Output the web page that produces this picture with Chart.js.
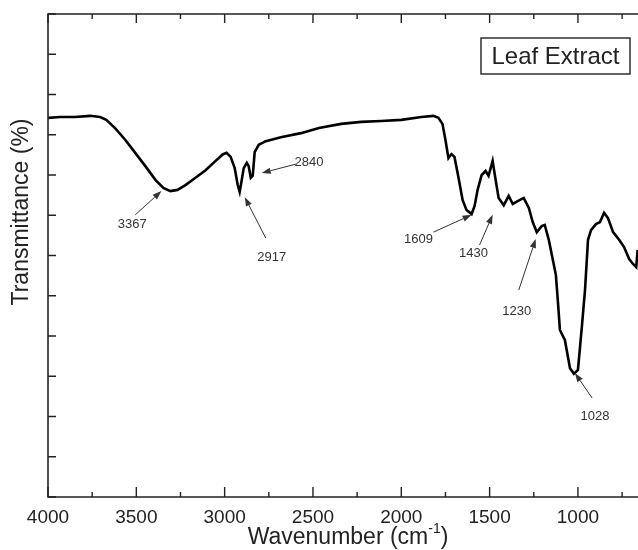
<!DOCTYPE html>
<html>
<head>
<meta charset="utf-8">
<script src="https://cdn.jsdelivr.net/npm/chart.js@4.4.1/dist/chart.umd.min.js"></script>
<style>
    html, body { margin: 0; padding: 0; background: #fff; }
    #wrap { width: 638px; height: 550px; position: relative; }
</style>
</head>
<body>
<div id="wrap"><canvas id="ftir-chart"></canvas></div>
<script>
/* FTIR spectrum — Leaf Extract */

const wavenumbers = [4000, 3932, 3847, 3761, 3705, 3670, 3619, 3562, 3506, 3449, 3392, 3347, 3307, 3267, 3222, 3165, 3108, 3051, 3011, 2989, 2966, 2943, 2926, 2915, 2903, 2892, 2875, 2864, 2852, 2841, 2830, 2807, 2767, 2682, 2568, 2466, 2341, 2227, 2114, 2000, 1886, 1818, 1790, 1767, 1750, 1733, 1716, 1699, 1676, 1653, 1631, 1602, 1585, 1568, 1545, 1523, 1506, 1483, 1466, 1449, 1420, 1392, 1369, 1341, 1307, 1278, 1256, 1233, 1205, 1188, 1165, 1142, 1125, 1114, 1102, 1074, 1045, 1023, 1000, 977, 960, 943, 926, 898, 875, 852, 830, 801, 767, 739, 710, 688, 670, 662];
const transmittance = [94.2, 94.4, 94.4, 94.7, 94.4, 93.7, 91.6, 88.7, 85.5, 82.2, 78.8, 76.8, 76.0, 76.3, 77.5, 79.3, 81.2, 83.5, 85.1, 85.5, 84.5, 81.7, 77.5, 75.8, 78.8, 81.7, 83.0, 82.2, 79.3, 79.8, 85.7, 87.5, 88.4, 89.4, 90.4, 91.7, 92.7, 93.2, 93.4, 93.7, 94.4, 94.7, 94.2, 92.7, 88.7, 84.2, 85.2, 84.5, 79.3, 73.8, 71.3, 70.3, 72.3, 76.3, 80.0, 81.0, 79.8, 83.5, 78.8, 74.3, 72.5, 74.8, 72.8, 73.5, 74.3, 71.8, 68.3, 65.8, 67.3, 67.6, 63.9, 58.9, 55.2, 48.9, 41.5, 39.0, 32.0, 30.6, 31.6, 42.7, 51.4, 63.9, 66.3, 67.8, 68.3, 70.6, 69.3, 65.8, 63.9, 62.1, 59.1, 57.9, 57.1, 61.4];

// peak callouts: label, label anchor, arrow tail, arrow tip (wavenumber, %T)
const peakLabels = ['3367', '2917', '2840', '1609', '1430', '1230', '1028'];
const labelAt   = [[3523, 67.6], [2733, 59.4], [2523, 83.2], [1903, 63.9], [1591, 60.6], [1346, 46.2], [903, 19.9]];
const arrowFrom = [[3506, 70.1], [2767, 64.3], [2597, 82.7], [1818, 65.8], [1557, 62.6], [1335, 51.4], [920, 24.6]];
const arrowTo   = [[3358, 76.0], [2886, 74.5], [2790, 80.5], [1602, 70.1], [1483, 70.1], [1239, 64.1], [1017, 30.8]];

const legendText = 'Leaf Extract';
const xTitle = 'Wavenumber (cm';
const xTitleSup = '-1';
const yTitle = 'Transmittance (%)';

const FONT = "'Liberation Sans', Arial, sans-serif";
const INK = '#222';

function drawArrow(ctx, x1, y1, x2, y2) {
    const ang = Math.atan2(y2 - y1, x2 - x1);
    const len = 9, half = 3.2;
    ctx.beginPath();
    ctx.moveTo(x1, y1);
    ctx.lineTo(x2 - Math.cos(ang) * len, y2 - Math.sin(ang) * len);
    ctx.stroke();
    ctx.beginPath();
    ctx.moveTo(x2, y2);
    ctx.lineTo(x2 - Math.cos(ang) * len - Math.sin(ang) * half, y2 - Math.sin(ang) * len + Math.cos(ang) * half);
    ctx.lineTo(x2 - Math.cos(ang) * len + Math.sin(ang) * half, y2 - Math.sin(ang) * len - Math.cos(ang) * half);
    ctx.closePath();
    ctx.fill();
}

const framePlugin = {
    id: 'framePlugin',
    afterDraw(chart) {
        const { ctx, chartArea: a, scales: { x, y } } = chart;
        ctx.save();

        // frame (right side is cut by the page edge)
        ctx.strokeStyle = INK;
        ctx.lineWidth = 1.6;
        ctx.beginPath();
        ctx.moveTo(a.right, a.top);
        ctx.lineTo(a.left, a.top);
        ctx.lineTo(a.left, a.bottom);
        ctx.lineTo(a.right, a.bottom);
        ctx.stroke();

        // inward ticks
        ctx.lineWidth = 1.4;
        ctx.beginPath();
        x.ticks.forEach(t => {
            const px = x.getPixelForValue(t.value);
            const major = t.value % 500 === 0;
            ctx.moveTo(px, a.bottom);
            ctx.lineTo(px, a.bottom - (major ? 10 : 5));
            ctx.moveTo(px, a.top);
            ctx.lineTo(px, a.top + (major ? 9 : 5));
        });
        y.ticks.forEach(t => {
            const py = y.getPixelForValue(t.value);
            ctx.moveTo(a.left, py);
            ctx.lineTo(a.left + 8, py);
        });
        ctx.stroke();

        // peak callouts
        ctx.strokeStyle = '#333';
        ctx.fillStyle = '#333';
        ctx.lineWidth = 1;
        ctx.font = `13px ${FONT}`;
        ctx.textAlign = 'center';
        ctx.textBaseline = 'middle';
        peakLabels.forEach((lab, i) => {
            drawArrow(ctx,
                x.getPixelForValue(arrowFrom[i][0]), y.getPixelForValue(arrowFrom[i][1]),
                x.getPixelForValue(arrowTo[i][0]), y.getPixelForValue(arrowTo[i][1]));
            ctx.fillText(lab, x.getPixelForValue(labelAt[i][0]), y.getPixelForValue(labelAt[i][1]));
        });

        // legend box
        ctx.fillStyle = INK;
        ctx.strokeStyle = INK;
        ctx.lineWidth = 1.4;
        const bx = a.right - 157, by = a.top + 24, bw = 149, bh = 36;
        ctx.strokeRect(bx, by, bw, bh);
        ctx.font = `24px ${FONT}`;
        ctx.fillText(legendText, bx + bw / 2, by + bh / 2 + 1);

        // axis titles
        ctx.font = `23px ${FONT}`;
        const mainW = ctx.measureText(xTitle).width;
        ctx.font = `14px ${FONT}`;
        const supW = ctx.measureText(xTitleSup).width;
        ctx.font = `23px ${FONT}`;
        const closeW = ctx.measureText(')').width;
        const total = mainW + supW + closeW;
        let tx = (a.left + a.right) / 2 + 5 - total / 2;
        const ty = a.bottom + 41;
        ctx.textAlign = 'left';
        ctx.fillText(xTitle, tx, ty);
        tx += mainW;
        ctx.font = `14px ${FONT}`;
        ctx.fillText(xTitleSup, tx, ty - 9);
        tx += supW;
        ctx.font = `23px ${FONT}`;
        ctx.fillText(')', tx, ty);

        ctx.translate(22, a.top + 198);
        ctx.rotate(-Math.PI / 2);
        ctx.textAlign = 'center';
        ctx.fillText(yTitle, 0, 0);

        ctx.restore();
    }
};

new Chart(document.getElementById('ftir-chart'), {
    type: 'line',
    data: {
        datasets: [{
            label: legendText,
            data: wavenumbers.map((w, i) => ({ x: w, y: transmittance[i] })),
            borderColor: '#000',
            borderWidth: 2.6,
            pointRadius: 0,
            tension: 0,
            fill: false
        }]
    },
    options: {
        responsive: true,
        maintainAspectRatio: false,
        animation: false,
        devicePixelRatio: 1,
        layout: { padding: { top: 14, right: 0, left: 0, bottom: 0 } },
        scales: {
            x: {
                type: 'linear',
                reverse: true,
                min: 660,
                max: 4000,
                border: { display: false },
                grid: { display: false, drawTicks: false },
                afterBuildTicks: (scale) => {
                    const ticks = [];
                    for (let v = 750; v <= 4000; v += 250) ticks.push({ value: v });
                    scale.ticks = ticks;
                },
                afterFit: (scale) => { scale.height = 53; },
                ticks: {
                    autoSkip: false,
                    maxRotation: 0,
                    padding: 9,
                    color: INK,
                    font: { family: FONT, size: 19 },
                    callback: v => v % 500 === 0 ? String(v) : ''
                }
            },
            y: {
                min: 0,
                max: 120,
                border: { display: false },
                grid: { display: false, drawTicks: false },
                afterFit: (scale) => { scale.width = 48; },
                ticks: { display: false, stepSize: 10 }
            }
        },
        plugins: {
            legend: { display: false },
            tooltip: { enabled: false }
        }
    },
    plugins: [framePlugin]
});
</script>
</body>
</html>
